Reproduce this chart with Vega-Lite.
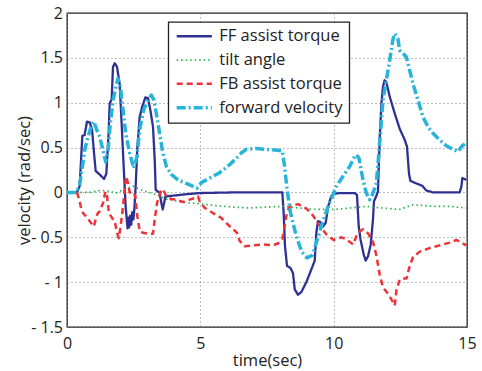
{
  "$schema": "https://vega.github.io/schema/vega-lite/v6.json",
  "autosize": "none",
  "width": 400,
  "height": 314,
  "padding": {"left": 67, "top": 13, "right": 15, "bottom": 44},
  "data": {"values": [
    {"s":"FF assist torque","t":0,"v":0},{"s":"FF assist torque","t":0.375,"v":0},{"s":"FF assist torque","t":0.475,"v":0.07},{"s":"FF assist torque","t":0.575,"v":0.63},{"s":"FF assist torque","t":0.66,"v":0.64},{"s":"FF assist torque","t":0.75,"v":0.79},{"s":"FF assist torque","t":0.85,"v":0.78},{"s":"FF assist torque","t":0.94,"v":0.7},{"s":"FF assist torque","t":1.01,"v":0.45},{"s":"FF assist torque","t":1.075,"v":0.24},{"s":"FF assist torque","t":1.225,"v":0.2},{"s":"FF assist torque","t":1.39,"v":0.15},{"s":"FF assist torque","t":1.475,"v":0.21},{"s":"FF assist torque","t":1.56,"v":0.66},{"s":"FF assist torque","t":1.6,"v":0.99},{"s":"FF assist torque","t":1.675,"v":1.04},{"s":"FF assist torque","t":1.725,"v":1.4},{"s":"FF assist torque","t":1.79,"v":1.44},{"s":"FF assist torque","t":1.875,"v":1.4},{"s":"FF assist torque","t":1.975,"v":1.21},{"s":"FF assist torque","t":2.06,"v":0.7},{"s":"FF assist torque","t":2.125,"v":0.29},{"s":"FF assist torque","t":2.2,"v":-0.16},{"s":"FF assist torque","t":2.27,"v":-0.4},{"s":"FF assist torque","t":2.3,"v":-0.28},{"s":"FF assist torque","t":2.33,"v":-0.39},{"s":"FF assist torque","t":2.37,"v":-0.26},{"s":"FF assist torque","t":2.41,"v":-0.36},{"s":"FF assist torque","t":2.45,"v":-0.22},{"s":"FF assist torque","t":2.49,"v":-0.3},{"s":"FF assist torque","t":2.525,"v":-0.19},{"s":"FF assist torque","t":2.575,"v":0.07},{"s":"FF assist torque","t":2.64,"v":0.51},{"s":"FF assist torque","t":2.725,"v":0.84},{"s":"FF assist torque","t":2.825,"v":0.96},{"s":"FF assist torque","t":2.94,"v":1.06},{"s":"FF assist torque","t":3.04,"v":1.05},{"s":"FF assist torque","t":3.125,"v":0.92},{"s":"FF assist torque","t":3.225,"v":0.73},{"s":"FF assist torque","t":3.29,"v":0.36},{"s":"FF assist torque","t":3.325,"v":0.03},{"s":"FF assist torque","t":3.41,"v":0.01},{"s":"FF assist torque","t":3.47,"v":0},{"s":"FF assist torque","t":3.54,"v":-0.12},{"s":"FF assist torque","t":3.59,"v":-0.19},{"s":"FF assist torque","t":3.64,"v":-0.12},{"s":"FF assist torque","t":3.69,"v":-0.045},{"s":"FF assist torque","t":3.85,"v":-0.04},{"s":"FF assist torque","t":4.475,"v":-0.02},{"s":"FF assist torque","t":4.975,"v":-0.007},{"s":"FF assist torque","t":6.225,"v":0},{"s":"FF assist torque","t":8.075,"v":0},{"s":"FF assist torque","t":8.125,"v":-0.23},{"s":"FF assist torque","t":8.175,"v":-0.6},{"s":"FF assist torque","t":8.25,"v":-0.82},{"s":"FF assist torque","t":8.375,"v":-0.84},{"s":"FF assist torque","t":8.475,"v":-0.9},{"s":"FF assist torque","t":8.54,"v":-1.08},{"s":"FF assist torque","t":8.66,"v":-1.14},{"s":"FF assist torque","t":8.79,"v":-1.11},{"s":"FF assist torque","t":8.975,"v":-1.0},{"s":"FF assist torque","t":9.16,"v":-0.86},{"s":"FF assist torque","t":9.29,"v":-0.76},{"s":"FF assist torque","t":9.35,"v":-0.45},{"s":"FF assist torque","t":9.41,"v":-0.32},{"s":"FF assist torque","t":9.5,"v":-0.33},{"s":"FF assist torque","t":9.6,"v":-0.38},{"s":"FF assist torque","t":9.7,"v":-0.34},{"s":"FF assist torque","t":9.79,"v":-0.16},{"s":"FF assist torque","t":9.91,"v":-0.04},{"s":"FF assist torque","t":10.01,"v":-0.015},{"s":"FF assist torque","t":10.225,"v":-0.007},{"s":"FF assist torque","t":10.79,"v":-0.007},{"s":"FF assist torque","t":10.875,"v":-0.03},{"s":"FF assist torque","t":10.94,"v":-0.38},{"s":"FF assist torque","t":11.01,"v":-0.53},{"s":"FF assist torque","t":11.125,"v":-0.69},{"s":"FF assist torque","t":11.2,"v":-0.76},{"s":"FF assist torque","t":11.29,"v":-0.71},{"s":"FF assist torque","t":11.39,"v":-0.58},{"s":"FF assist torque","t":11.475,"v":-0.3},{"s":"FF assist torque","t":11.51,"v":-0.1},{"s":"FF assist torque","t":11.6,"v":-0.04},{"s":"FF assist torque","t":11.66,"v":0.01},{"s":"FF assist torque","t":11.725,"v":0.59},{"s":"FF assist torque","t":11.79,"v":0.99},{"s":"FF assist torque","t":11.85,"v":1.18},{"s":"FF assist torque","t":11.91,"v":1.25},{"s":"FF assist torque","t":11.975,"v":1.23},{"s":"FF assist torque","t":12.1,"v":1.07},{"s":"FF assist torque","t":12.29,"v":0.88},{"s":"FF assist torque","t":12.475,"v":0.71},{"s":"FF assist torque","t":12.66,"v":0.59},{"s":"FF assist torque","t":12.75,"v":0.51},{"s":"FF assist torque","t":12.825,"v":0.21},{"s":"FF assist torque","t":12.875,"v":0.13},{"s":"FF assist torque","t":13.1,"v":0.1},{"s":"FF assist torque","t":13.325,"v":0.074},{"s":"FF assist torque","t":13.475,"v":0.022},{"s":"FF assist torque","t":13.725,"v":0},{"s":"FF assist torque","t":14.725,"v":0},{"s":"FF assist torque","t":14.79,"v":0.067},{"s":"FF assist torque","t":14.825,"v":0.16},{"s":"FF assist torque","t":14.91,"v":0.15},{"s":"FF assist torque","t":14.975,"v":0.14},

    {"s":"tilt angle","t":0,"v":0},{"s":"tilt angle","t":0.475,"v":0},{"s":"tilt angle","t":0.85,"v":0},{"s":"tilt angle","t":1.225,"v":0.02},{"s":"tilt angle","t":1.475,"v":0.02},{"s":"tilt angle","t":1.85,"v":-0.007},{"s":"tilt angle","t":2.1,"v":0.03},{"s":"tilt angle","t":2.475,"v":0.07},{"s":"tilt angle","t":2.85,"v":0.02},{"s":"tilt angle","t":3.35,"v":-0.026},{"s":"tilt angle","t":3.725,"v":-0.074},{"s":"tilt angle","t":4.35,"v":-0.11},{"s":"tilt angle","t":4.975,"v":-0.126},{"s":"tilt angle","t":5.6,"v":-0.148},{"s":"tilt angle","t":6.225,"v":-0.163},{"s":"tilt angle","t":6.85,"v":-0.174},{"s":"tilt angle","t":7.475,"v":-0.163},{"s":"tilt angle","t":8.1,"v":-0.155},{"s":"tilt angle","t":8.725,"v":-0.174},{"s":"tilt angle","t":9.35,"v":-0.19},{"s":"tilt angle","t":9.975,"v":-0.19},{"s":"tilt angle","t":10.6,"v":-0.174},{"s":"tilt angle","t":11.225,"v":-0.155},{"s":"tilt angle","t":11.85,"v":-0.174},{"s":"tilt angle","t":12.475,"v":-0.19},{"s":"tilt angle","t":12.975,"v":-0.137},{"s":"tilt angle","t":13.725,"v":-0.155},{"s":"tilt angle","t":14.35,"v":-0.155},{"s":"tilt angle","t":14.975,"v":-0.174},

    {"s":"FB assist torque","t":0,"v":0},{"s":"FB assist torque","t":0.375,"v":0},{"s":"FB assist torque","t":0.475,"v":-0.1},{"s":"FB assist torque","t":0.54,"v":-0.19},{"s":"FB assist torque","t":0.6,"v":-0.23},{"s":"FB assist torque","t":0.73,"v":-0.27},{"s":"FB assist torque","t":0.85,"v":-0.32},{"s":"FB assist torque","t":0.975,"v":-0.37},{"s":"FB assist torque","t":1.01,"v":-0.38},{"s":"FB assist torque","t":1.1,"v":-0.27},{"s":"FB assist torque","t":1.16,"v":-0.23},{"s":"FB assist torque","t":1.225,"v":-0.21},{"s":"FB assist torque","t":1.35,"v":-0.12},{"s":"FB assist torque","t":1.44,"v":0.01},{"s":"FB assist torque","t":1.5,"v":-0.04},{"s":"FB assist torque","t":1.575,"v":-0.23},{"s":"FB assist torque","t":1.7,"v":-0.29},{"s":"FB assist torque","t":1.79,"v":-0.32},{"s":"FB assist torque","t":1.875,"v":-0.45},{"s":"FB assist torque","t":1.94,"v":-0.51},{"s":"FB assist torque","t":2.01,"v":-0.38},{"s":"FB assist torque","t":2.1,"v":-0.16},{"s":"FB assist torque","t":2.175,"v":0.07},{"s":"FB assist torque","t":2.225,"v":0.18},{"s":"FB assist torque","t":2.29,"v":0.1},{"s":"FB assist torque","t":2.35,"v":0},{"s":"FB assist torque","t":2.475,"v":0.01},{"s":"FB assist torque","t":2.56,"v":-0.04},{"s":"FB assist torque","t":2.64,"v":-0.27},{"s":"FB assist torque","t":2.725,"v":-0.43},{"s":"FB assist torque","t":2.85,"v":-0.45},{"s":"FB assist torque","t":3.04,"v":-0.46},{"s":"FB assist torque","t":3.225,"v":-0.46},{"s":"FB assist torque","t":3.29,"v":-0.3},{"s":"FB assist torque","t":3.375,"v":-0.12},{"s":"FB assist torque","t":3.475,"v":-0.026},{"s":"FB assist torque","t":3.56,"v":0.037},{"s":"FB assist torque","t":3.64,"v":0.01},{"s":"FB assist torque","t":3.725,"v":-0.044},{"s":"FB assist torque","t":3.91,"v":-0.074},{"s":"FB assist torque","t":4.1,"v":-0.08},{"s":"FB assist torque","t":4.35,"v":-0.107},{"s":"FB assist torque","t":4.6,"v":-0.08},{"s":"FB assist torque","t":4.79,"v":-0.063},{"s":"FB assist torque","t":4.91,"v":-0.044},{"s":"FB assist torque","t":4.975,"v":-0.1},{"s":"FB assist torque","t":5.16,"v":-0.17},{"s":"FB assist torque","t":5.475,"v":-0.23},{"s":"FB assist torque","t":5.79,"v":-0.285},{"s":"FB assist torque","t":6.04,"v":-0.36},{"s":"FB assist torque","t":6.225,"v":-0.41},{"s":"FB assist torque","t":6.375,"v":-0.45},{"s":"FB assist torque","t":6.475,"v":-0.54},{"s":"FB assist torque","t":6.66,"v":-0.6},{"s":"FB assist torque","t":6.975,"v":-0.59},{"s":"FB assist torque","t":7.35,"v":-0.58},{"s":"FB assist torque","t":7.725,"v":-0.59},{"s":"FB assist torque","t":7.975,"v":-0.56},{"s":"FB assist torque","t":8.075,"v":-0.52},{"s":"FB assist torque","t":8.16,"v":-0.38},{"s":"FB assist torque","t":8.25,"v":-0.22},{"s":"FB assist torque","t":8.35,"v":-0.16},{"s":"FB assist torque","t":8.66,"v":-0.13},{"s":"FB assist torque","t":8.98,"v":-0.18},{"s":"FB assist torque","t":9.23,"v":-0.26},{"s":"FB assist torque","t":9.475,"v":-0.37},{"s":"FB assist torque","t":9.73,"v":-0.47},{"s":"FB assist torque","t":10.0,"v":-0.53},{"s":"FB assist torque","t":10.29,"v":-0.5},{"s":"FB assist torque","t":10.45,"v":-0.52},{"s":"FB assist torque","t":10.73,"v":-0.58},{"s":"FB assist torque","t":10.9,"v":-0.45},{"s":"FB assist torque","t":11.1,"v":-0.41},{"s":"FB assist torque","t":11.3,"v":-0.46},{"s":"FB assist torque","t":11.475,"v":-0.55},{"s":"FB assist torque","t":11.6,"v":-0.7},{"s":"FB assist torque","t":11.73,"v":-0.92},{"s":"FB assist torque","t":11.85,"v":-1.06},{"s":"FB assist torque","t":12.04,"v":-1.13},{"s":"FB assist torque","t":12.22,"v":-1.22},{"s":"FB assist torque","t":12.29,"v":-1.26},{"s":"FB assist torque","t":12.35,"v":-1.1},{"s":"FB assist torque","t":12.475,"v":-0.97},{"s":"FB assist torque","t":12.6,"v":-0.96},{"s":"FB assist torque","t":12.73,"v":-0.96},{"s":"FB assist torque","t":12.85,"v":-0.82},{"s":"FB assist torque","t":12.98,"v":-0.72},{"s":"FB assist torque","t":13.23,"v":-0.66},{"s":"FB assist torque","t":13.6,"v":-0.62},{"s":"FB assist torque","t":13.98,"v":-0.59},{"s":"FB assist torque","t":14.35,"v":-0.56},{"s":"FB assist torque","t":14.6,"v":-0.53},{"s":"FB assist torque","t":14.79,"v":-0.56},{"s":"FB assist torque","t":14.975,"v":-0.59},

    {"s":"forward velocity","t":0,"v":0},{"s":"forward velocity","t":0.35,"v":0},{"s":"forward velocity","t":0.475,"v":0.085},{"s":"forward velocity","t":0.56,"v":0.25},{"s":"forward velocity","t":0.66,"v":0.47},{"s":"forward velocity","t":0.79,"v":0.62},{"s":"forward velocity","t":0.91,"v":0.74},{"s":"forward velocity","t":1.0,"v":0.79},{"s":"forward velocity","t":1.1,"v":0.71},{"s":"forward velocity","t":1.225,"v":0.62},{"s":"forward velocity","t":1.35,"v":0.47},{"s":"forward velocity","t":1.45,"v":0.34},{"s":"forward velocity","t":1.54,"v":0.47},{"s":"forward velocity","t":1.625,"v":0.77},{"s":"forward velocity","t":1.725,"v":1.03},{"s":"forward velocity","t":1.825,"v":1.16},{"s":"forward velocity","t":1.91,"v":1.27},{"s":"forward velocity","t":2.0,"v":1.18},{"s":"forward velocity","t":2.1,"v":0.92},{"s":"forward velocity","t":2.2,"v":0.66},{"s":"forward velocity","t":2.35,"v":0.44},{"s":"forward velocity","t":2.5,"v":0.27},{"s":"forward velocity","t":2.625,"v":0.4},{"s":"forward velocity","t":2.725,"v":0.7},{"s":"forward velocity","t":2.875,"v":0.92},{"s":"forward velocity","t":3.04,"v":1.03},{"s":"forward velocity","t":3.16,"v":1.085},{"s":"forward velocity","t":3.26,"v":1.03},{"s":"forward velocity","t":3.35,"v":0.88},{"s":"forward velocity","t":3.45,"v":0.7},{"s":"forward velocity","t":3.575,"v":0.47},{"s":"forward velocity","t":3.725,"v":0.29},{"s":"forward velocity","t":3.91,"v":0.2},{"s":"forward velocity","t":4.16,"v":0.14},{"s":"forward velocity","t":4.475,"v":0.1},{"s":"forward velocity","t":4.725,"v":0.067},{"s":"forward velocity","t":4.875,"v":0.048},{"s":"forward velocity","t":5.04,"v":0.11},{"s":"forward velocity","t":5.35,"v":0.16},{"s":"forward velocity","t":5.725,"v":0.22},{"s":"forward velocity","t":6.1,"v":0.31},{"s":"forward velocity","t":6.35,"v":0.38},{"s":"forward velocity","t":6.54,"v":0.44},{"s":"forward velocity","t":6.725,"v":0.48},{"s":"forward velocity","t":7.1,"v":0.49},{"s":"forward velocity","t":7.475,"v":0.48},{"s":"forward velocity","t":7.91,"v":0.47},{"s":"forward velocity","t":8.075,"v":0.46},{"s":"forward velocity","t":8.16,"v":0.29},{"s":"forward velocity","t":8.25,"v":0.04},{"s":"forward velocity","t":8.375,"v":-0.22},{"s":"forward velocity","t":8.6,"v":-0.49},{"s":"forward velocity","t":8.8,"v":-0.66},{"s":"forward velocity","t":9.0,"v":-0.73},{"s":"forward velocity","t":9.2,"v":-0.7},{"s":"forward velocity","t":9.36,"v":-0.55},{"s":"forward velocity","t":9.6,"v":-0.32},{"s":"forward velocity","t":9.8,"v":-0.15},{"s":"forward velocity","t":10.0,"v":-0.01},{"s":"forward velocity","t":10.1,"v":0.067},{"s":"forward velocity","t":10.35,"v":0.18},{"s":"forward velocity","t":10.6,"v":0.29},{"s":"forward velocity","t":10.75,"v":0.38},{"s":"forward velocity","t":10.85,"v":0.42},{"s":"forward velocity","t":10.95,"v":0.38},{"s":"forward velocity","t":11.1,"v":0.14},{"s":"forward velocity","t":11.225,"v":-0.007},{"s":"forward velocity","t":11.35,"v":-0.08},{"s":"forward velocity","t":11.45,"v":-0.026},{"s":"forward velocity","t":11.6,"v":0.1},{"s":"forward velocity","t":11.725,"v":0.55},{"s":"forward velocity","t":11.85,"v":1.03},{"s":"forward velocity","t":11.975,"v":1.25},{"s":"forward velocity","t":12.1,"v":1.47},{"s":"forward velocity","t":12.225,"v":1.71},{"s":"forward velocity","t":12.29,"v":1.77},{"s":"forward velocity","t":12.41,"v":1.71},{"s":"forward velocity","t":12.475,"v":1.585},{"s":"forward velocity","t":12.6,"v":1.55},{"s":"forward velocity","t":12.725,"v":1.51},{"s":"forward velocity","t":12.85,"v":1.36},{"s":"forward velocity","t":12.975,"v":1.21},{"s":"forward velocity","t":13.16,"v":1.03},{"s":"forward velocity","t":13.35,"v":0.84},{"s":"forward velocity","t":13.54,"v":0.73},{"s":"forward velocity","t":13.725,"v":0.66},{"s":"forward velocity","t":13.975,"v":0.585},{"s":"forward velocity","t":14.225,"v":0.52},{"s":"forward velocity","t":14.475,"v":0.48},{"s":"forward velocity","t":14.66,"v":0.455},{"s":"forward velocity","t":14.79,"v":0.51},{"s":"forward velocity","t":14.975,"v":0.555}
  ]},
  "mark": {"type": "line", "clip": true, "strokeCap": "butt", "strokeJoin": "round"},
  "encoding": {
    "x": {
      "field": "t", "type": "quantitative",
      "scale": {"domain": [0, 15], "nice": false, "zero": false},
      "axis": {"title": "time(sec)", "values": [0, 5, 10, 15], "labelFlush": false, "labelPadding": 8.5, "titleY": 38.5, "titleBaseline": "alphabetic", "titleFontWeight": "normal"}
    },
    "y": {
      "field": "v", "type": "quantitative",
      "scale": {"domain": [-1.5, 2], "nice": false, "zero": false},
      "axis": {
        "title": "velocity (rad/sec)",
        "values": [-1.5, -1, -0.5, 0, 0.5, 1, 1.5, 2],
        "labelExpr": "datum.value < 0 ? '- ' + format(-datum.value, '') : format(datum.value, '')",
        "labelPadding": 4.5, "labelFlush": false, "labelOverlap": false,
        "titleX": -37.5, "titleY": 167, "titleBaseline": "alphabetic", "titleAngle": 270, "titleFontWeight": "normal"
      }
    },
    "color": {
      "field": "s", "type": "nominal",
      "scale": {
        "domain": ["FF assist torque", "tilt angle", "FB assist torque", "forward velocity"],
        "range": ["#2E3192", "#2DB04F", "#EE3338", "#27B4D9"]
      },
      "legend": {
        "title": null, "orient": "none", "legendX": 101.3, "legendY": 9,
        "symbolType": "M-1,0H5", "symbolSize": 137,
        "labelFontSize": 16.5, "labelColor": "#222", "labelOffset": 28.5,
        "padding": 6, "rowPadding": 6.8,
        "fillColor": "white", "strokeColor": "#222"
      }
    },
    "strokeDash": {
      "field": "s", "type": "nominal",
      "scale": {
        "domain": ["FF assist torque", "tilt angle", "FB assist torque", "forward velocity"],
        "range": [[1, 0], [1.5, 3], [6, 4], [9, 3, 2, 3]]
      }
    },
    "strokeWidth": {
      "field": "s", "type": "nominal",
      "scale": {
        "type": "ordinal",
        "domain": ["FF assist torque", "tilt angle", "FB assist torque", "forward velocity"],
        "range": [2.3, 1.7, 2.5, 3.5]
      }
    }
  },
  "config": {
    "font": "Open Sans",
    "view": {"stroke": "#1a1a1a", "strokeWidth": 1.3},
    "axis": {
      "domain": false, "ticks": false, "tickSize": 0,
      "grid": true, "gridColor": "#7a7a7a", "gridDash": [1, 3], "gridWidth": 1, "gridOpacity": 1,
      "labelFont": "Open Sans", "labelFontSize": 16, "labelColor": "#222",
      "titleFont": "Open Sans", "titleFontSize": 16.5, "titleFontWeight": "normal", "titleColor": "#222"
    },
    "legend": {"strokeWidth": 1.3}
  }
}
